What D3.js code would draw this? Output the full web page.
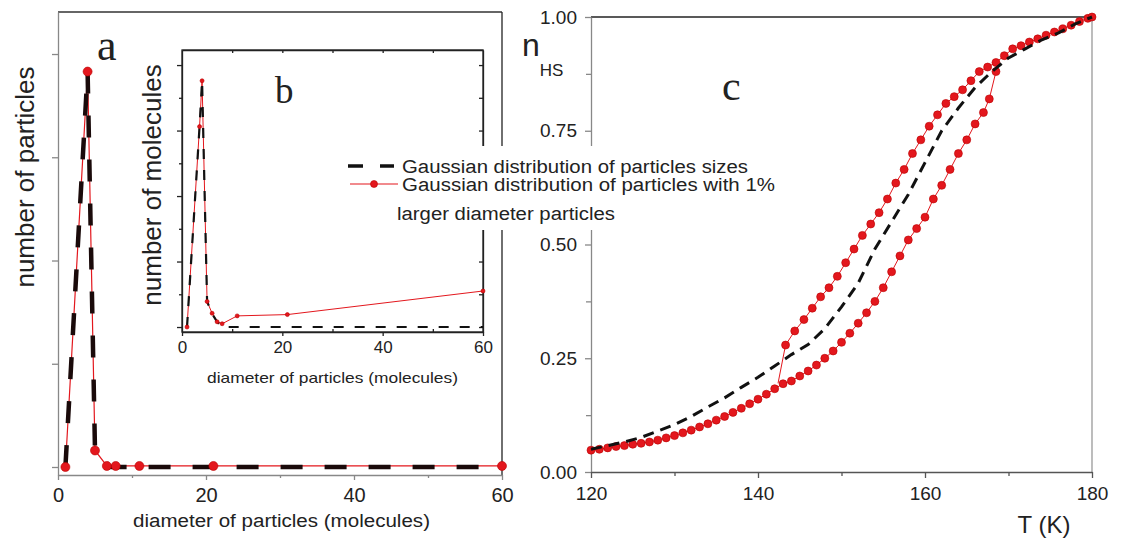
<!DOCTYPE html>
<html>
<head>
<meta charset="utf-8">
<script src="https://cdn.jsdelivr.net/npm/d3@7"></script>
<style>
  body { margin: 0; background: #fff; }
  text { font-family: "Liberation Sans", Arial, sans-serif; fill: #222; }
</style>
</head>
<body>
<div id="chart"></div>
<script>
/**
 * Three-panel figure: particle size distributions (a, inset b) and
 * spin-crossover transition curves n_HS(T) (c)
 */

const width = 1123;
const height = 540;

// panel a: number of particles vs diameter
const aRedDiameter = [1, 4, 5, 6.6, 7.8, 11, 21, 60];
const aRedCount = [0, 3.83, 0.16, 0.01, 0.01, 0.01, 0.01, 0.01];
const aBlackDiameter = [1, 4, 5, 7, 60];
const aBlackCount = [0, 3.83, 0.16, 0, 0];
const aXTicks = [0, 20, 40, 60];
const aYTicks = [0, 1, 2, 3, 4];

// inset b: number of molecules vs diameter
const bRedDiameter = [1, 3.5, 4, 5, 6, 7, 8, 11, 21, 60];
const bRedCount = [0, 3.06, 3.76, 0.39, 0.21, 0.08, 0.05, 0.17, 0.19, 0.55];
const bBlackDiameter = [1, 3.5, 4, 5, 6, 7, 8, 60];
const bBlackCount = [0, 3.06, 3.76, 0.39, 0.2, 0.08, 0, 0];
const bXTicks = [0, 20, 40, 60];

// panel c: red heating branch (lower, jumps up near 168 K)
const cLowT = [120, 121, 122, 123, 124, 125, 126, 127, 128, 129, 130, 131, 132, 133, 134, 135,
  136, 137, 138, 139, 140, 141, 142, 143, 144, 145, 146, 147, 148, 149, 150, 151, 152, 153,
  154, 155, 156, 157, 158, 159, 160, 161, 162, 163, 164, 165, 166, 167, 167.7, 168.5];
const cLowN = [0.048, 0.050, 0.053, 0.056, 0.058, 0.061, 0.063, 0.066, 0.070, 0.075, 0.080,
  0.086, 0.092, 0.099, 0.106, 0.114, 0.122, 0.131, 0.140, 0.150, 0.160, 0.171, 0.183, 0.194,
  0.200, 0.211, 0.222, 0.235, 0.250, 0.266, 0.285, 0.305, 0.327, 0.350, 0.375, 0.405, 0.44,
  0.475, 0.51, 0.535, 0.56, 0.60, 0.63, 0.665, 0.70, 0.73, 0.765, 0.79, 0.82, 0.88];
// red cooling branch (upper, drops near 143 K)
const cUpT = [142.4, 143.3, 144.4, 145.5, 146.5, 147.5, 148.5, 149.5, 150.5, 151.5, 152.5, 153.5,
  154.5, 155.5, 156.5, 157.5, 158.5, 159.5, 160.5, 161.5, 162.5, 163.5, 164.5, 165.5, 166.5,
  167.5, 168.5, 169.5, 170.5, 171.5, 172.5, 173.5, 174.5, 175.5, 176.5, 177.5, 178.5, 179.5, 180];
const cUpN = [0.195, 0.279, 0.31, 0.335, 0.36, 0.385, 0.405, 0.43, 0.46, 0.49, 0.52, 0.545,
  0.57, 0.60, 0.635, 0.665, 0.70, 0.73, 0.76, 0.785, 0.81, 0.825, 0.84, 0.86, 0.88, 0.89,
  0.90, 0.915, 0.93, 0.937, 0.945, 0.952, 0.96, 0.967, 0.974, 0.982, 0.99, 0.997, 1.0];
// black dashed: Gaussian distribution
const cGaussT = [120, 122, 124, 126, 128, 130, 132, 134, 136, 138, 140, 142, 144, 146, 148, 150,
  152, 154, 156, 158, 160, 162, 164, 166, 168, 170, 172, 174, 176, 178, 180];
const cGaussN = [0.05, 0.058, 0.066, 0.076, 0.090, 0.104, 0.122, 0.143, 0.163, 0.186, 0.208,
  0.233, 0.258, 0.28, 0.315, 0.363, 0.415, 0.49, 0.55, 0.61, 0.68, 0.75, 0.80, 0.845, 0.88,
  0.91, 0.93, 0.95, 0.965, 0.985, 1.0];
const cXTicks = [120, 140, 160, 180];
const cYTicks = [0, 0.25, 0.5, 0.75, 1];

const legendLabels = [
    "Gaussian distribution of particles sizes",
    "Gaussian distribution of particles with 1%",
    "larger diameter particles"
];

const RED = "#e3171d";
const SANS = "'Liberation Sans', Arial, sans-serif";
const SERIF = "'Liberation Serif', 'Times New Roman', serif";

const svg = d3.select("#chart")
    .append("svg")
    .attr("width", width)
    .attr("height", height)
    .style("background-color", "#ffffff");

const zip = (xs, ys) => xs.map((v, i) => [v, ys[i]]);

function series(g, pts, x, y, stroke, sw, dash) {
    g.append("path")
        .datum(pts)
        .attr("fill", "none")
        .attr("stroke", stroke)
        .attr("stroke-width", sw)
        .attr("stroke-dasharray", dash || null)
        .attr("d", d3.line().x(d => x(d[0])).y(d => y(d[1])));
}

function markers(g, pts, x, y, r) {
    g.selectAll(null)
        .data(pts)
        .enter()
        .append("circle")
        .attr("cx", d => x(d[0]))
        .attr("cy", d => y(d[1]))
        .attr("r", r)
        .attr("fill", RED)
        .attr("stroke", "#b00")
        .attr("stroke-width", 0.6);
}

function styleAxis(g, color, fontSize) {
    g.selectAll("path, line").attr("stroke", color).attr("stroke-width", 1.3);
    g.selectAll("text")
        .style("font-size", fontSize + "px")
        .style("font-family", SANS)
        .attr("fill", "#222");
}

// ---------------- panel a ----------------
const xA = d3.scaleLinear().domain([0, 60]).range([58, 502]);
const yA = d3.scaleLinear().domain([-0.0775, 4.407]).range([475, 12]);
const gA = svg.append("g");

gA.append("line")
    .attr("x1", xA(0)).attr("x2", xA(60))
    .attr("y1", yA.range()[1]).attr("y2", yA.range()[1])
    .attr("stroke", "#333").attr("stroke-width", 1.3);
gA.append("line")
    .attr("x1", xA(60)).attr("x2", xA(60))
    .attr("y1", yA.range()[0]).attr("y2", yA.range()[1])
    .attr("stroke", "#222").attr("stroke-width", 1.3);

styleAxis(gA.append("g")
    .attr("transform", `translate(${xA(0)},0)`)
    .call(d3.axisLeft(yA).tickValues(aYTicks).tickSize(6).tickSizeOuter(0).tickFormat("")), "#888", 20);

styleAxis(gA.append("g")
    .attr("transform", `translate(0,${yA.range()[0]})`)
    .call(d3.axisBottom(xA).tickValues(aXTicks).tickSize(5).tickSizeOuter(0).tickPadding(8)), "#888", 20);
styleAxis(gA.append("g")
    .attr("transform", `translate(0,${yA.range()[0]})`)
    .call(d3.axisBottom(xA).tickValues([10, 30, 50]).tickSize(3).tickFormat(""))
    .call(g => g.select(".domain").remove()), "#888", 20);

gA.append("text")
    .attr("x", 25).attr("y", 177)
    .attr("transform", "rotate(-90,25,177)")
    .attr("text-anchor", "middle")
    .attr("dy", "0.35em")
    .style("font-size", "26px")
    .text("number of particles");

gA.append("text")
    .attr("x", 133).attr("y", 527)
    .attr("textLength", 297)
    .attr("lengthAdjust", "spacingAndGlyphs")
    .style("font-size", "18px")
    .text("diameter of particles (molecules)");

gA.append("text")
    .attr("x", 97).attr("y", 60)
    .style("font-family", SERIF)
    .style("font-size", "44px")
    .text("a");

series(gA, zip(aRedDiameter, aRedCount), xA, yA, RED, 1.2);
series(gA, zip(aBlackDiameter, aBlackCount), xA, yA, "#1a0a0a", 4.5, "22,22");
markers(gA, zip(aRedDiameter, aRedCount), xA, yA, 4.5);

// ---------------- inset b ----------------
const xB = d3.scaleLinear().domain([0, 60]).range([182, 483]);
const yB = d3.scaleLinear().domain([-0.076, 4.23]).range([332, 50]);
const gB = svg.append("g");

gB.append("rect")
    .attr("x", xB(0)).attr("y", yB.range()[1])
    .attr("width", xB(60) - xB(0)).attr("height", yB.range()[0] - yB.range()[1])
    .attr("fill", "#fff").attr("stroke", "#222").attr("stroke-width", 1.3);

styleAxis(gB.append("g")
    .attr("transform", `translate(${xB(0)},0)`)
    .call(d3.axisLeft(yB).tickValues([0, 1, 2, 3, 4]).tickSize(5).tickSizeOuter(0).tickFormat("")), "#222", 17);
styleAxis(gB.append("g")
    .attr("transform", `translate(${xB(0)},0)`)
    .call(d3.axisLeft(yB).tickValues([0.5, 1.5, 2.5, 3.5]).tickSize(3).tickFormat(""))
    .call(g => g.select(".domain").remove()), "#222", 17);
styleAxis(gB.append("g")
    .attr("transform", `translate(${xB(60)},0)`)
    .call(d3.axisRight(yB).tickValues([0, 0.5, 1, 1.5, 2, 2.5, 3, 3.5, 4]).tickSize(-4).tickSizeOuter(0).tickFormat("")), "#222", 17);
styleAxis(gB.append("g")
    .attr("transform", `translate(0,${yB.range()[0]})`)
    .call(d3.axisBottom(xB).tickValues(bXTicks).tickSize(4).tickSizeOuter(0).tickPadding(5)), "#222", 17);
styleAxis(gB.append("g")
    .attr("transform", `translate(0,${yB.range()[0]})`)
    .call(d3.axisBottom(xB).tickValues([10, 30, 50]).tickSize(-3).tickFormat(""))
    .call(g => g.select(".domain").remove()), "#222", 17);
styleAxis(gB.append("g")
    .attr("transform", `translate(0,${yB.range()[1]})`)
    .call(d3.axisTop(xB).tickValues([10, 20, 30, 40, 50]).tickSize(-3).tickSizeOuter(0).tickFormat("")), "#222", 17);

gB.append("text")
    .attr("x", 152).attr("y", 185)
    .attr("transform", "rotate(-90,152,185)")
    .attr("text-anchor", "middle")
    .attr("dy", "0.35em")
    .style("font-size", "26px")
    .text("number of molecules");

gB.append("text")
    .attr("x", 207).attr("y", 383)
    .attr("textLength", 251)
    .attr("lengthAdjust", "spacingAndGlyphs")
    .style("font-size", "15px")
    .text("diameter of particles (molecules)");

gB.append("text")
    .attr("x", 275).attr("y", 103)
    .style("font-family", SERIF)
    .style("font-size", "37px")
    .text("b");

series(gB, zip(bRedDiameter, bRedCount), xB, yB, RED, 1);
series(gB, zip(bBlackDiameter, bBlackCount), xB, yB, "#111", 2.2, "10,11");
markers(gB, zip(bRedDiameter, bRedCount), xB, yB, 2);

// ---------------- panel c ----------------
const xC = d3.scaleLinear().domain([120, 180]).range([591, 1092]);
const yC = d3.scaleLinear().domain([0, 1]).range([472, 17]);
const gC = svg.append("g");

gC.append("line")
    .attr("x1", xC(120)).attr("x2", xC(180))
    .attr("y1", yC(1)).attr("y2", yC(1))
    .attr("stroke", "#222").attr("stroke-width", 1.5);
gC.append("line")
    .attr("x1", xC(180)).attr("x2", xC(180))
    .attr("y1", yC(0)).attr("y2", yC(1))
    .attr("stroke", "#999").attr("stroke-width", 1.3);

styleAxis(gC.append("g")
    .attr("transform", `translate(${xC(120)},0)`)
    .call(d3.axisLeft(yC).tickValues(cYTicks).tickSize(6).tickSizeOuter(0).tickPadding(8).tickFormat(d3.format(".2f"))), "#888", 19);
styleAxis(gC.append("g")
    .attr("transform", `translate(${xC(120)},0)`)
    .call(d3.axisLeft(yC).tickValues([0.125, 0.375, 0.625, 0.875]).tickSize(5).tickFormat(""))
    .call(g => g.select(".domain").remove()), "#888", 19);
styleAxis(gC.append("g")
    .attr("transform", `translate(0,${yC(0)})`)
    .call(d3.axisBottom(xC).tickValues(cXTicks).tickSize(6).tickSizeOuter(0).tickPadding(9)), "#555", 19);
styleAxis(gC.append("g")
    .attr("transform", `translate(0,${yC(0)})`)
    .call(d3.axisBottom(xC).tickValues([130, 150, 170]).tickSize(4).tickFormat(""))
    .call(g => g.select(".domain").remove()), "#555", 19);

const nLabel = gC.append("text")
    .attr("x", 522).attr("y", 56)
    .style("font-size", "32px")
    .text("n");
nLabel.append("tspan")
    .attr("dy", 20)
    .style("font-size", "17px")
    .text("HS");

gC.append("text")
    .attr("x", 1044).attr("y", 533)
    .attr("text-anchor", "middle")
    .style("font-size", "24px")
    .text("T (K)");

gC.append("text")
    .attr("x", 722).attr("y", 100)
    .style("font-family", SERIF)
    .style("font-size", "42px")
    .text("c");

const cLow = zip(cLowT, cLowN);
const cUp = zip(cUpT, cUpN);
series(gC, cLow, xC, yC, RED, 1);
series(gC, cUp, xC, yC, RED, 1);
markers(gC, cLow, xC, yC, 4);
markers(gC, cUp.slice(1), xC, yC, 4);
series(gC, zip(cGaussT, cGaussN), xC, yC, "#111", 3, "11,7");

// ---------------- legend ----------------
const legend = svg.append("g");
legend.append("rect")
    .attr("x", 338).attr("y", 146)
    .attr("width", 446).attr("height", 84)
    .attr("fill", "#fff");
legend.append("line")
    .attr("x1", 348).attr("x2", 394)
    .attr("y1", 166).attr("y2", 166)
    .attr("stroke", "#111").attr("stroke-width", 3.5)
    .attr("stroke-dasharray", "15,17");
legend.append("line")
    .attr("x1", 350).attr("x2", 398)
    .attr("y1", 184).attr("y2", 184)
    .attr("stroke", RED).attr("stroke-width", 1.2);
legend.append("circle")
    .attr("cx", 374).attr("cy", 184).attr("r", 3.5)
    .attr("fill", RED).attr("stroke", "#b00").attr("stroke-width", 0.6);

const legendX = [402, 402, 397];
const legendY = [173, 191, 220];
const legendLen = [346, 373, 218];
legend.selectAll(".legend-text")
    .data(legendLabels)
    .enter()
    .append("text")
    .attr("class", "legend-text")
    .attr("x", (d, i) => legendX[i])
    .attr("y", (d, i) => legendY[i])
    .attr("textLength", (d, i) => legendLen[i])
    .attr("lengthAdjust", "spacingAndGlyphs")
    .style("font-size", "18px")
    .text(d => d);
</script>
</body>
</html>
